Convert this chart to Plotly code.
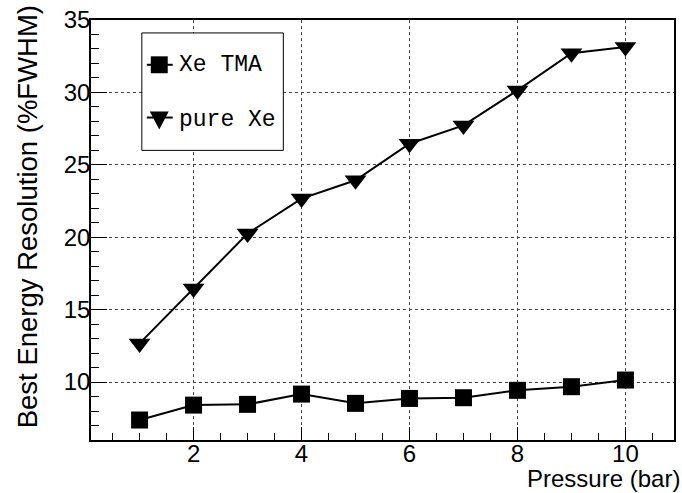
import plotly.graph_objects as go

pressure = [1, 2, 3, 4, 5, 6, 7, 8, 9, 10]
xe_tma = [7.38, 8.41, 8.46, 9.17, 8.53, 8.87, 8.92, 9.43, 9.68, 10.14]
pure_xe = [12.67, 16.46, 20.25, 22.67, 23.93, 26.46, 27.72, 30.14, 32.71, 33.13]
series_names = ["Xe TMA", "pure Xe"]

fig = go.Figure()
fig.add_trace(go.Scatter(
    x=pressure, y=xe_tma, name=series_names[0], mode="lines+markers",
    line=dict(color="black", width=2),
    marker=dict(symbol="square", size=17, color="black")))
fig.add_trace(go.Scatter(
    x=pressure, y=pure_xe, name=series_names[1], mode="lines+markers",
    line=dict(color="black", width=2),
    marker=dict(symbol="triangle-down", size=19, color="black")))

L, R, T, B = 91, 676, 18, 440
W, H = 682, 493


def px(x):
    return (x - L) / (R - L)


def py(y):
    return 1 - (y - T) / (B - T)


axis_common = dict(
    showline=True, linecolor="black", linewidth=1.5, mirror=True,
    ticks="inside", tickcolor="black", tickwidth=1,
    showgrid=True, gridcolor="#444", griddash="dot", gridwidth=1,
    zeroline=False,
    tickfont=dict(family="Liberation Sans, Arial", size=24, color="black"),
)

fig.update_xaxes(range=[0.1, 10.9], dtick=2, tick0=0, ticklen=13, ticklabelstandoff=-9,
                 minor=dict(dtick=0.5, ticklen=7, ticks="inside", tickcolor="black", showgrid=False),
                 **axis_common)
fig.update_yaxes(range=[6, 35], dtick=5, tick0=0, ticklen=16, ticklabelstandoff=-6,
                 minor=dict(dtick=1, ticklen=8, ticks="inside", tickcolor="black", showgrid=False),
                 **axis_common)

fig.add_annotation(text="Best Energy Resolution (%FWHM)", xref="paper", yref="paper",
                   x=px(27), y=py(216), textangle=-90,
                   showarrow=False, xanchor="center", yanchor="middle",
                   font=dict(family="Liberation Sans, Arial", size=27.5, color="black"))
fig.add_annotation(text="Pressure (bar)", xref="paper", yref="paper",
                   x=px(684), y=py(479), showarrow=False, xanchor="right", yanchor="middle",
                   font=dict(family="Liberation Sans, Arial", size=24, color="black"))

# legend box (drawn manually, ROOT TLegend style)
shapes = [
    dict(type="rect", xref="paper", yref="paper", x0=px(142), x1=px(284), y0=py(149), y1=py(31),
         line=dict(color="black", width=1), fillcolor="white", layer="above"),
    dict(type="line", xref="paper", yref="paper", x0=px(147), x1=px(173), y0=py(63), y1=py(63),
         line=dict(color="black", width=2), layer="above"),
    dict(type="rect", xref="paper", yref="paper", x0=px(151), x1=px(168), y0=py(71.5), y1=py(54.5),
         line=dict(color="black", width=0), fillcolor="black", layer="above"),
    dict(type="line", xref="paper", yref="paper", x0=px(147), x1=px(173), y0=py(116), y1=py(116),
         line=dict(color="black", width=2), layer="above"),
    dict(type="path", xref="paper", yref="paper",
         path=f"M {px(150)},{py(110)} L {px(169)},{py(110)} L {px(159.5)},{py(128)} Z",
         line=dict(color="black", width=0), fillcolor="black", layer="above"),
]
fig.add_annotation(text=series_names[0], xref="paper", yref="paper", x=px(177), y=py(63),
                   showarrow=False, xanchor="left", yanchor="middle",
                   font=dict(family="Liberation Mono, Courier New", size=23, color="black"))
fig.add_annotation(text=series_names[1], xref="paper", yref="paper", x=px(177), y=py(118),
                   showarrow=False, xanchor="left", yanchor="middle",
                   font=dict(family="Liberation Mono, Courier New", size=23, color="black"))

fig.update_layout(
    width=W, height=H,
    margin=dict(l=L, r=W - R, t=T, b=H - B),
    paper_bgcolor="white", plot_bgcolor="white",
    showlegend=False,
    shapes=shapes,
)

fig.write_html("out.html", config={"displayModeBar": False},
               post_script="document.body.style.margin='0';")
